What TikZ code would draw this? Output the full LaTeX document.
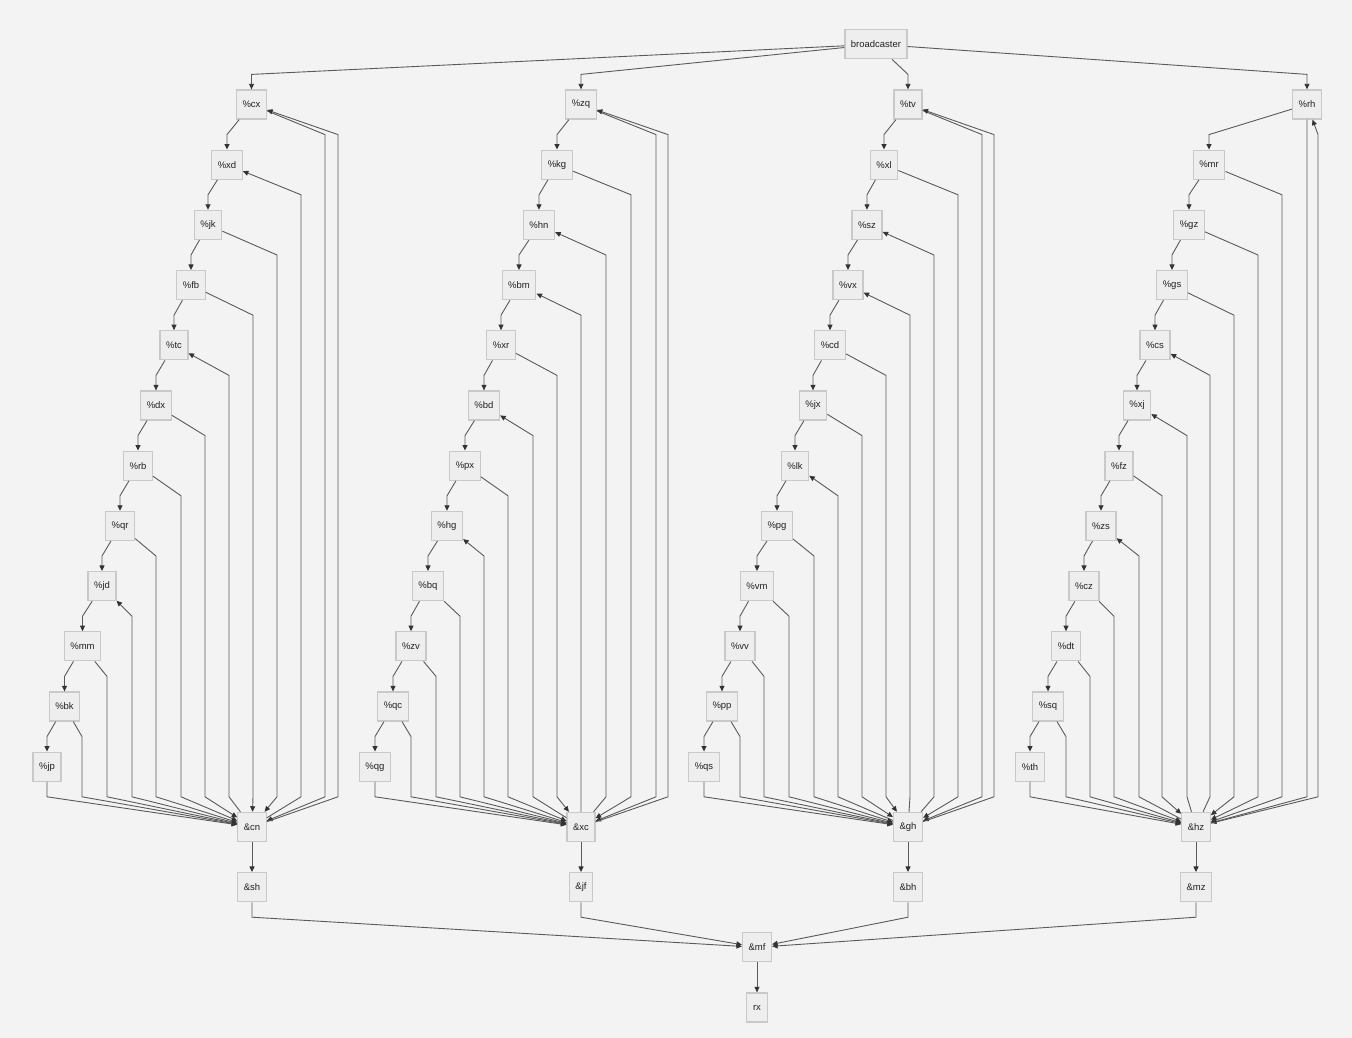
\documentclass[tikz,border=0pt]{standalone}
\usepackage{fontspec}
\setmainfont{Liberation Sans}
\usetikzlibrary{arrows.meta}
\definecolor{bg}{HTML}{F3F3F3}
\definecolor{nfill}{HTML}{EEEEEE}
\definecolor{nline}{HTML}{C9C9C9}
\definecolor{eline}{HTML}{5A5A5A}
\definecolor{ahead}{HTML}{333333}
\definecolor{txt}{HTML}{222222}
\newcommand\chn[4]{\draw[e] (#1) -- (#3,#4) -- (#2);}
\newcommand\outE[4]{\draw[e] (#1) -- (#3,#4) -- (#3,796.8) -- (#2);}
\newcommand\retE[4]{\draw[e] (#2) -- (#3,796.8) -- (#3,#4) -- (#1);}
\newcommand\lastE[3]{\draw[e] (#1) -- (#3,796.8) -- (#2);}
\begin{document}
\begin{tikzpicture}[x=1pt,y=-1pt,
 nd/.style={draw=nline, fill=nfill, line width=1.3pt, minimum height=29pt, minimum width=21pt, inner xsep=6pt, inner ysep=0pt, text=txt, font=\fontsize{9.5}{11}\selectfont},
 e/.style={draw=eline, line width=0.9pt, -{Triangle[length=5.5pt,width=5pt,color=ahead]}}]
\fill[bg] (0,0) rectangle (1352,1038);
\useasboundingbox (0,0) rectangle (1352,1038);
% broadcaster
\node[nd] (bc) at (876,44.3) {broadcaster};
% column 1
\node[nd] (cx) at (251.5,104.5) {\%cx};
\node[nd] (xd) at (227,164.7) {\%xd};
\node[nd] (jk) at (208,224.9) {\%jk};
\node[nd] (fb) at (191,285.1) {\%fb};
\node[nd] (tc) at (174,345.3) {\%tc};
\node[nd] (dx) at (156,405.5) {\%dx};
\node[nd] (rb) at (138,465.7) {\%rb};
\node[nd] (qr) at (120,525.9) {\%qr};
\node[nd] (jd) at (102,586.1) {\%jd};
\node[nd] (mm) at (82.5,646.3) {\%mm};
\node[nd] (bk) at (64.5,706.5) {\%bk};
\node[nd] (jp) at (47,766.7) {\%jp};
\node[nd] (cn) at (252,826.9) {\&cn};
\node[nd] (sh) at (252,887.1) {\&sh};
% column 2
\node[nd] (zq) at (581,104.5) {\%zq};
\node[nd] (kg) at (557,164.7) {\%kg};
\node[nd] (hn) at (539,224.9) {\%hn};
\node[nd] (bm) at (519,285.1) {\%bm};
\node[nd] (xr) at (501,345.3) {\%xr};
\node[nd] (bd) at (484,405.5) {\%bd};
\node[nd] (px) at (465,465.7) {\%px};
\node[nd] (hg) at (447,525.9) {\%hg};
\node[nd] (bq) at (428,586.1) {\%bq};
\node[nd] (zv) at (411,646.3) {\%zv};
\node[nd] (qc) at (393,706.5) {\%qc};
\node[nd] (qg) at (375,766.7) {\%qg};
\node[nd] (xc) at (581,826.9) {\&xc};
\node[nd] (jf) at (581,887.1) {\&jf};
% column 3
\node[nd] (tv) at (908,104.5) {\%tv};
\node[nd] (xl) at (884,164.7) {\%xl};
\node[nd] (sz) at (867,224.9) {\%sz};
\node[nd] (vx) at (848,285.1) {\%vx};
\node[nd] (cd) at (830,345.3) {\%cd};
\node[nd] (jx) at (813,405.5) {\%jx};
\node[nd] (lk) at (795,465.7) {\%lk};
\node[nd] (pg) at (777,525.9) {\%pg};
\node[nd] (vm) at (757,586.1) {\%vm};
\node[nd] (vv) at (740,646.3) {\%vv};
\node[nd] (pp) at (722,706.5) {\%pp};
\node[nd] (qs) at (704,766.7) {\%qs};
\node[nd] (gh) at (908,826.9) {\&gh};
\node[nd] (bh) at (908,887.1) {\&bh};
% column 4
\node[nd] (rh) at (1307,104.5) {\%rh};
\node[nd] (mr) at (1209,164.7) {\%mr};
\node[nd] (gz) at (1189,224.9) {\%gz};
\node[nd] (gs) at (1172,285.1) {\%gs};
\node[nd] (cs) at (1155,345.3) {\%cs};
\node[nd] (xj) at (1137,405.5) {\%xj};
\node[nd] (fz) at (1119,465.7) {\%fz};
\node[nd] (zs) at (1101,525.9) {\%zs};
\node[nd] (cz) at (1084,586.1) {\%cz};
\node[nd] (dt) at (1066,646.3) {\%dt};
\node[nd] (sq) at (1048,706.5) {\%sq};
\node[nd] (th) at (1030,766.7) {\%th};
\node[nd] (hz) at (1196,826.9) {\&hz};
\node[nd] (mz) at (1196,887.1) {\&mz};
% bottom
\node[nd] (mf) at (757,947.3) {\&mf};
\node[nd] (rx) at (757,1007.5) {rx};
% broadcaster edges
\draw[e] (bc) -- (251.5,74.4) -- (cx);
\draw[e] (bc) -- (581,74.4) -- (zq);
\draw[e] (bc) -- (908,74.4) -- (tv);
\draw[e] (bc) -- (1307,74.4) -- (rh);
% column 1
\chn{cx}{xd}{227}{134.6}
\chn{xd}{jk}{208}{194.8}
\chn{jk}{fb}{191}{255}
\chn{fb}{tc}{174}{315.2}
\chn{tc}{dx}{156}{375.4}
\chn{dx}{rb}{138}{435.6}
\chn{rb}{qr}{120}{495.8}
\chn{qr}{jd}{102}{556}
\chn{jd}{mm}{82.5}{616.2}
\chn{mm}{bk}{64.5}{676.4}
\chn{bk}{jp}{47}{736.6}
\outE{cx}{cn}{325}{134.6}
\retE{cx}{cn}{338}{134.6}
\retE{xd}{cn}{301}{194.8}
\outE{jk}{cn}{277}{255}
\outE{fb}{cn}{253}{315.2}
\retE{tc}{cn}{229}{375.4}
\outE{dx}{cn}{205}{435.6}
\outE{rb}{cn}{181}{495.8}
\outE{qr}{cn}{156}{556}
\retE{jd}{cn}{132}{616.2}
\outE{mm}{cn}{107}{676.4}
\outE{bk}{cn}{82}{736.6}
\lastE{jp}{cn}{47}
% column 2
\chn{zq}{kg}{557}{134.6}
\chn{kg}{hn}{539}{194.8}
\chn{hn}{bm}{519}{255}
\chn{bm}{xr}{501}{315.2}
\chn{xr}{bd}{484}{375.4}
\chn{bd}{px}{465}{435.6}
\chn{px}{hg}{447}{495.8}
\chn{hg}{bq}{428}{556}
\chn{bq}{zv}{411}{616.2}
\chn{zv}{qc}{393}{676.4}
\chn{qc}{qg}{375}{736.6}
\outE{zq}{xc}{656}{134.6}
\retE{zq}{xc}{668}{134.6}
\outE{kg}{xc}{631}{194.8}
\retE{hn}{xc}{606}{255}
\retE{bm}{xc}{581}{315.2}
\outE{xr}{xc}{557}{375.4}
\retE{bd}{xc}{533}{435.6}
\outE{px}{xc}{508}{495.8}
\retE{hg}{xc}{484}{556}
\outE{bq}{xc}{460}{616.2}
\outE{zv}{xc}{436}{676.4}
\outE{qc}{xc}{411}{736.6}
\lastE{qg}{xc}{375}
% column 3
\chn{tv}{xl}{884}{134.6}
\chn{xl}{sz}{867}{194.8}
\chn{sz}{vx}{848}{255}
\chn{vx}{cd}{830}{315.2}
\chn{cd}{jx}{813}{375.4}
\chn{jx}{lk}{795}{435.6}
\chn{lk}{pg}{777}{495.8}
\chn{pg}{vm}{757}{556}
\chn{vm}{vv}{740}{616.2}
\chn{vv}{pp}{722}{676.4}
\chn{pp}{qs}{704}{736.6}
\outE{tv}{gh}{982}{134.6}
\retE{tv}{gh}{994}{134.6}
\outE{xl}{gh}{958}{194.8}
\retE{sz}{gh}{934}{255}
\retE{vx}{gh}{910}{315.2}
\outE{cd}{gh}{886}{375.4}
\outE{jx}{gh}{862}{435.6}
\retE{lk}{gh}{838}{495.8}
\outE{pg}{gh}{814}{556}
\outE{vm}{gh}{789}{616.2}
\outE{vv}{gh}{764}{676.4}
\outE{pp}{gh}{740}{736.6}
\lastE{qs}{gh}{704}
% column 4
\chn{rh}{mr}{1209}{134.6}
\chn{mr}{gz}{1189}{194.8}
\chn{gz}{gs}{1172}{255}
\chn{gs}{cs}{1155}{315.2}
\chn{cs}{xj}{1137}{375.4}
\chn{xj}{fz}{1119}{435.6}
\chn{fz}{zs}{1101}{495.8}
\chn{zs}{cz}{1084}{556}
\chn{cz}{dt}{1066}{616.2}
\chn{dt}{sq}{1048}{676.4}
\chn{sq}{th}{1030}{736.6}
\lastE{rh}{hz}{1307}
\retE{rh}{hz}{1318}{134.6}
\outE{mr}{hz}{1282}{194.8}
\outE{gz}{hz}{1258}{255}
\outE{gs}{hz}{1234}{315.2}
\retE{cs}{hz}{1210}{375.4}
\retE{xj}{hz}{1187}{435.6}
\outE{fz}{hz}{1162}{495.8}
\retE{zs}{hz}{1139}{556}
\outE{cz}{hz}{1114}{616.2}
\outE{dt}{hz}{1090}{676.4}
\outE{sq}{hz}{1066}{736.6}
\lastE{th}{hz}{1030}
% lower part
\draw[e] (cn) -- (sh);
\draw[e] (xc) -- (jf);
\draw[e] (gh) -- (bh);
\draw[e] (hz) -- (mz);
\draw[e] (sh) -- (252,917.2) -- (mf);
\draw[e] (jf) -- (581,917.2) -- (mf);
\draw[e] (bh) -- (908,917.2) -- (mf);
\draw[e] (mz) -- (1196,917.2) -- (mf);
\draw[e] (mf) -- (rx);
\end{tikzpicture}
\end{document}
